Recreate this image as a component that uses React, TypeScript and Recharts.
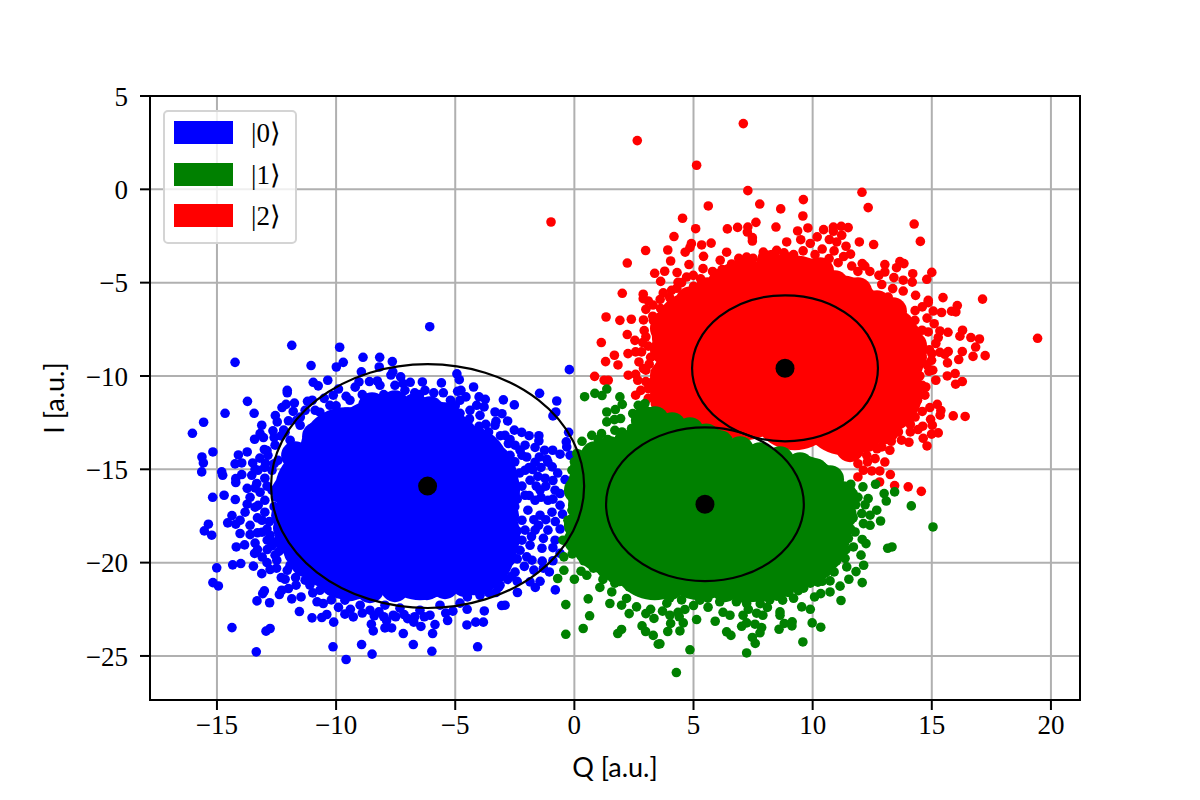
import React from "react";
import { ScatterChart, Scatter, XAxis, YAxis, CartesianGrid, Legend, ReferenceArea } from "recharts";

type P = [number, number];

const xTicks = [-15, -10, -5, 0, 5, 10, 15, 20];
const yTicks = [5, 0, -5, -10, -15, -20, -25];
const xDomain = [-17.81, 21.22];
const yDomain = [-27.36, 5];
const stateLabels = ["|0⟩", "|1⟩", "|2⟩"];
const stateColors = ["#0000ff", "#008000", "#ff0000"];

// Densest part of each cloud, where single shots merge into a solid area.
const blueDenseWide: P[] = [[-8.37,-13.71],[-6.06,-13.71],[-9.63,-14.09],[-10.68,-16.12],[-8.37,-16.12],[-6.06,-16.12],[-4.17,-16.12],[-10.47,-18.53],[-8.37,-18.53],[-6.06,-18.53],[-4.17,-18.53],[-9.42,-19.6],[-6.48,-19.6],[-4.38,-19.34],[-4.59,-15.05]];
const blueDenseEdge: P[] = [[-12.1,-16.12],[-11.72,-14.25],[-10.84,-13.23],[-9.5,-12.43],[-8.49,-11.62],[-7.53,-11.52],[-6.69,-11.68],[-5.43,-12.16],[-4.72,-13.02],[-3.63,-13.98],[-3.0,-15.21],[-2.87,-16.5],[-2.87,-18.43],[-3.0,-19.6],[-3.54,-20.3],[-4.59,-21.1],[-6.19,-21.26],[-7.53,-21.37],[-8.58,-21.42],[-10.05,-21.1],[-11.3,-20.03],[-12.0,-18.8],[-12.14,-17.46],[-11.51,-15.32],[-10.26,-12.8],[-6.06,-11.84],[-4.17,-13.44],[-3.25,-14.52],[-2.91,-17.46],[-3.96,-20.68],[-5.43,-21.21],[-9.42,-21.32],[-10.68,-20.51],[-11.6,-19.44],[-12.06,-18.16]];
const blueShots: P[] = [[-11.86,-8.36],[-14.24,-9.27],[-9.85,-8.46],[-11.05,-9.44],[-9.99,-9.52],[-9.7,-9.27],[-8.87,-9.0],[-8.17,-9.0],[-13.72,-11.36],[-14.66,-12.0],[-13.44,-12.0],[-15.56,-12.48],[-16.03,-13.07],[-15.17,-14.07],[-15.63,-14.34],[-15.57,-14.66],[-15.64,-15.14],[-14.8,-15.14],[-14.76,-15.32],[-15.18,-16.5],[-14.7,-16.39],[-12.05,-10.77],[-12.05,-10.9],[-11.75,-11.45],[-12.1,-11.52],[-12.27,-11.69],[-12.55,-12.12],[-12.47,-12.46],[-13.12,-12.64],[-12.65,-12.94],[-13.19,-13.09],[-13.42,-13.39],[-13.05,-13.3],[-12.31,-13.21],[-13.01,-13.94],[-13.73,-14.07],[-14.1,-14.23],[-14.24,-14.71],[-13.96,-14.66],[-13.5,-14.66],[-12.96,-14.69],[-13.96,-15.28],[-13.54,-15.32],[-14.21,-15.5],[-14.21,-15.71],[-13.73,-16.02],[-13.33,-15.76],[-14.23,-16.62],[-13.73,-16.87],[-13.27,-16.93],[-14.37,-17.48],[-10.96,-10.34],[-10.35,-10.23],[-10.75,-10.53],[-11.2,-11.36],[-11.65,-12.37],[-11.3,-11.84],[-10.88,-11.84],[-8.94,-9.78],[-9.04,-10.32],[-8.19,-9.52],[-8.27,-10.27],[-9.58,-11.09],[-10.12,-11.03],
[-15.36,-17.94],[-15.53,-18.3],[-15.22,-18.53],[-14.55,-17.87],[-14.21,-17.94],[-14.03,-18.44],[-13.61,-18.5],[-14.19,-19.16],[-13.84,-19.05],[-13.4,-18.95],[-13.42,-19.51],[-12.89,-19.3],[-12.89,-18.8],[-15.01,-20.28],[-14.34,-20.12],[-14.0,-20.05],[-13.47,-20.19],[-13.12,-20.59],[-12.77,-20.37],[-12.49,-19.87],[-15.17,-21.07],[-14.94,-21.25],[-13.01,-21.51],[-13.08,-21.66],[-13.32,-22.05],[-12.79,-22.15],[-12.38,-21.71],[-12.28,-21.48],[-12.0,-21.39],[-12.14,-20.89],[-12.05,-20.41],[-11.68,-21.21],[-11.47,-21.84],[-11.86,-21.94],[-10.98,-21.62],[-11.54,-22.62],[-11.01,-22.96],[-10.6,-22.94],[-10.39,-22.78],[-10.1,-23.19],[-14.37,-23.48],[-12.94,-23.67],[-12.77,-23.53],[-13.35,-24.78],[-10.13,-24.51],[-9.58,-25.19],[-8.93,-24.39],[-8.49,-24.9],[-6.76,-24.39],[-7.18,-23.8],[-8.44,-23.66],[-8.52,-23.3],[-7.95,-23.5],[-7.67,-23.5],[-7.88,-23.12],[-7.15,-22.78],[-6.74,-23.19],[-6.44,-23.42],[-9.28,-22.91],[-9.63,-22.76],[-10.54,-22.19],[-8.2,-22.64],[-8.58,-22.55],[-7.6,-22.82],
[-6.06,-22.82],[-5.85,-23.32],[-5.95,-23.8],[-5.98,-24.75],[-5.32,-23.1],[-4.51,-23.34],[-4.14,-23.19],[-3.82,-23.19],[-4.06,-24.51],[-3.78,-22.59],[-3.05,-22.3],[-2.91,-22.28],[-2.39,-21.6],[-3.18,-21.33],[-1.86,-21.03],[-1.64,-21.33],[-1.44,-21.0],[-0.8,-21.46],[-1.05,-20.5],[-4.49,-21.84],[-2.0,-19.69],[-1.35,-19.92],[-3.61,-21.03],[-2.63,-20.73],[-4.1,-21.12],
[-6.07,-7.36],[-0.21,-9.66],[-7.64,-9.23],[-7.29,-10.05],[-7.62,-9.78],[-6.89,-10.34],[-6.38,-10.32],[-5.58,-10.37],[-4.93,-9.89],[-4.83,-10.2],[-4.76,-10.77],[-4.9,-10.82],[-4.23,-10.59],[-4.55,-11.12],[-4.0,-11.12],[-3.74,-11.25],[-2.98,-11.28],[-2.52,-11.55],[-1.46,-10.93],[-0.74,-11.34],[-0.78,-11.93],[-0.9,-12.14],[-3.33,-11.93],[-3.04,-12.02],[-3.29,-12.43],[-4.1,-11.57],[-3.79,-11.66],[-3.72,-12.59],[-2.8,-12.41],[-2.52,-12.9],[-2.21,-13.02],[-1.9,-13.2],[-1.49,-13.2],[-1.49,-13.48],[-0.24,-13.02],[-0.34,-13.53],[-0.32,-13.8],[-1.25,-13.98],[-0.91,-13.98],[-0.6,-14.19],[-0.18,-14.25],[-1.47,-14.34],[-1.16,-14.46],[-0.93,-14.87],[-1.75,-15.01],[-0.39,-15.55],[-0.6,-16.3],[-2.0,-14.34],[-2.28,-13.98],[-2.77,-13.62],[-1.65,-13.83],
[-2.07,-15.05],[-1.86,-15.59],[-1.44,-16.12],[-1.11,-16.66],[-1.65,-16.66],[-0.81,-16.12],[-1.23,-15.48],[-1.95,-17.19],[-1.44,-17.46],[-0.94,-17.3],[-0.6,-16.93],[-2.07,-18.26],[-1.65,-18.26],[-1.11,-18.26],[-1.86,-19.07],[-1.36,-19.23],[-0.81,-18.8],[-2.28,-19.34],[-1.78,-19.87],[-1.11,-14.62],[-1.65,-14.62],[-2.2,-14.25],[-2.49,-13.71],[-2.07,-13.71],[-2.91,-13.18],[-3.33,-12.64],[-3.96,-12.11],[-4.38,-11.84],[-4.8,-11.3],[-2.7,-14.25],[-2.07,-16.39],[-1.53,-15.38],[-2.2,-17.73],
[-8.16,-10.5],[-7.53,-10.5],[-7.11,-10.77],[-6.27,-10.77],[-9.42,-11.3],[-10.26,-11.57],[-10.68,-11.94],[-11.51,-12.64],[-11.93,-13.44],[-12.44,-14.52],[-12.69,-15.05],[-12.99,-16.66],[-13.11,-17.73],[-12.77,-18.53],[-12.56,-19.6],[-11.93,-20.14],[-11.3,-20.94],[-10.68,-21.48],[-9.63,-22.01],[-8.99,-22.28],[-7.95,-22.28],[-7.32,-22.44],[-6.48,-22.55],[-5.64,-22.28],[-4.8,-22.17],[-3.96,-21.75],[-3.12,-21.21],[-2.49,-20.51],
[-13.28,-15.05],[-12.99,-15.48],[-13.19,-16.23],[-13.61,-16.5],[-13.4,-17.03],[-12.99,-17.3],[-13.82,-17.3],[-12.69,-16.12],[-14.03,-17.73],[-13.61,-18.0],[-13.11,-18.37],[-12.86,-14.25],[-12.56,-13.71],[-12.14,-13.02],
[-10.5,-11.2],[-10.0,-11.6],[-9.9,-10.7],[-9.2,-10.6],[-8.9,-11.0],[-8.6,-10.3],[-8.0,-11.0],[-7.7,-9.95],[-7.2,-10.4],[-6.7,-10.9],[-6.5,-11.0],[-5.9,-10.9],[-5.5,-10.9],[-5.2,-11.3],[-5.0,-11.6],[-4.8,-12.0],[-4.4,-12.3],[-4.0,-12.7],[-3.6,-13.0],[-3.1,-13.2],[-2.7,-13.4],
[-2.5,-14.6],[-2.3,-15.2],[-2.6,-15.6],[-2.2,-15.9],[-1.9,-14.9],[-1.6,-15.9],[-1.2,-15.9],[-0.9,-15.6],[-0.7,-15.2],[-1.4,-14.9],[-1.9,-16.4],[-1.4,-16.5],[-0.9,-16.6],[-0.5,-17.4],[-2.5,-17.0],[-2.4,-16.6],[-1.7,-17.7],[-1.2,-17.7],[-0.8,-17.8],[-1.5,-18.0],[-2.4,-18.3],[-2.2,-18.8],[-1.8,-18.6],[-1.3,-18.7],[-0.9,-19.2],[-0.6,-18.2],[-2.4,-19.8],[-2.1,-20.2],[-1.7,-20.4],[-1.3,-20.3],[-0.9,-19.9],[-0.6,-19.5],[-2.8,-20.9],[-2.4,-21.0],[-3.3,-21.6],[-3.6,-21.6],
[-4.5,-22.5],[-5.1,-22.6],[-5.4,-22.7],[-6.3,-22.9],[-6.7,-22.9],[-7.0,-23.0],[-7.5,-22.9],[-8.0,-22.9],[-8.4,-22.85],[-8.9,-22.7],[-9.4,-22.5],[-9.9,-22.4],[-10.2,-22.0],[-10.8,-22.1],[-11.1,-21.2],[-11.7,-20.8],[-12.3,-20.8],[-12.5,-20.3],[-12.9,-20.0],[-13.1,-19.7],[-13.3,-19.3],
[-13.4,-16.0],[-13.0,-14.9],[-13.4,-15.0],[-13.2,-14.4],[-12.9,-14.0],[-12.6,-14.7],[-12.6,-13.3],[-12.2,-12.9],[-12.0,-12.4],[-11.8,-11.9],[-11.5,-12.2],[-11.0,-11.3],[-12.9,-15.9],[-12.8,-17.8],[-12.9,-18.2],[-13.3,-18.4],[-13.3,-17.6],[-12.6,-17.0],[-12.5,-16.5],[-12.6,-18.9],[-12.4,-19.4],[-12.7,-19.1]];

const redDenseWide: P[] = [[5.14,-7.82],[5.05,-10.5],[7.15,-6.21],[7.15,-8.62],[7.15,-11.03],[9.25,-5.95],[9.25,-8.36],[9.25,-11.57],[11.14,-7.02],[11.36,-9.43],[11.36,-11.84],[12.82,-8.89],[12.74,-10.77]];
const redDenseEdge: P[] = [[3.76,-7.45],[3.76,-8.62],[3.76,-9.96],[3.76,-11.03],[4.43,-6.48],[5.6,-5.46],[6.2,-4.98],[7.15,-4.39],[8.21,-4.02],[9.59,-4.45],[10.31,-4.39],[10.93,-5.09],[11.9,-5.46],[12.7,-6.16],[13.37,-6.53],[13.66,-7.28],[14.21,-8.36],[14.21,-9.0],[13.92,-10.23],[13.92,-11.41],[13.54,-12.11],[13.04,-12.91],[12.24,-13.34],[11.57,-13.87],[4.85,-5.95],[9.0,-4.12],[13.96,-7.82]];
const redShots: P[] = [[7.09,3.52],[2.64,2.61],[5.13,1.29],[-0.98,-1.75],[7.28,-0.07],[7.78,-0.79],[8.66,-1.05],[5.62,-0.89],[4.54,-1.55],[5.09,-2.11],[6.42,-2.12],[6.85,-2.04],[7.28,-2.02],[7.26,-2.29],[7.47,-2.59],[7.47,-2.77],[7.62,-1.77],[8.46,-2.02],[4.18,-2.53],[2.99,-3.28],[3.92,-3.25],[4.91,-2.91],[4.85,-3.12],[4.65,-3.37],[5.34,-2.98],[5.74,-2.88],[5.42,-3.59],[4.04,-3.84],[2.22,-3.95],[4.81,-4.03],[3.37,-4.5],[3.79,-4.39],[4.31,-4.46],[3.62,-4.93],[4.35,-4.98],[4.99,-4.61],[5.4,-4.25],[6.12,-3.8],[6.39,-3.37],[2.01,-5.57],[2.89,-5.62],[2.89,-5.86],[3.1,-5.98],[3.73,-5.55],[4.08,-5.41],[4.53,-5.89],[4.08,-6.03],[3.0,-6.43],[3.62,-6.39],[1.33,-6.84],[1.91,-7.02],[2.39,-6.96],[3.29,-6.8],[4.85,-5.59],[4.71,-4.7],[7.23,-3.63],[7.93,-3.36],[8.49,-3.27],[8.91,-2.82],
[12.07,-0.16],[12.33,-0.98],[9.61,-0.55],[9.59,-1.43],[9.37,-2.23],[9.8,-2.07],[10.46,-2.16],[10.87,-2.02],[10.87,-2.25],[11.2,-1.98],[11.49,-2.05],[11.22,-2.46],[10.7,-2.69],[11.01,-2.82],[10.19,-2.55],[11.4,-3.05],[11.96,-2.82],[12.56,-2.96],[11.59,-3.47],[14.26,-1.86],[14.52,-2.79],[11.07,-3.93],[10.69,-3.71],[11.64,-4.11],[12.08,-3.98],[12.19,-4.11],[13.03,-4.03],[13.66,-3.87],[13.83,-3.98],[13.52,-4.2],[13.03,-4.43],[12.78,-4.61],[13.41,-4.73],[14.2,-4.52],[15.0,-4.45],[14.79,-4.82],[14.18,-4.97],[13.8,-4.87],[13.36,-5.32],[13.8,-5.45],[14.32,-5.68],[15.47,-5.8],[17.13,-5.88],[13.17,-5.77],[14.85,-5.95],
[19.44,-7.98],[14.85,-6.07],[16.07,-6.23],[15.83,-6.53],[16.01,-6.57],[15.41,-6.6],[15.06,-6.52],[16.29,-7.55],[16.18,-7.87],[16.64,-7.94],[17.0,-8.02],[16.84,-8.45],[16.73,-8.95],[17.24,-8.91],[16.28,-8.69],[16.13,-9.12],[15.66,-9.3],[15.69,-8.69],[15.34,-8.73],[15.55,-8.84],[15.68,-7.66],[15.34,-7.59],[15.27,-7.94],[15.17,-8.26],[14.85,-7.64],[14.99,-9.16],[15.04,-9.69],[14.88,-9.75],[15.17,-10.23],[15.65,-10.0],[15.98,-9.87],[16.28,-10.3],[16.0,-10.44],[14.75,-10.59],[15.23,-11.52],[15.38,-11.85],[15.35,-12.1],[15.9,-12.14],[16.4,-12.17],[14.92,-11.69],[14.95,-12.32],[15.02,-12.64],[14.62,-12.69],[14.42,-12.87],[15.27,-13.05],[14.99,-13.12],[14.64,-13.34],[14.8,-13.75],[14.04,-13.55],[13.73,-13.44],[13.24,-13.98],[12.9,-13.8],[12.62,-14.43],[13.03,-14.61],[12.27,-14.25],[13.26,-15.28],[12.82,-15.09],[12.48,-15.09],[12.13,-15.05],[11.9,-15.41],[12.81,-15.68],[13.44,-15.87],[14.01,-15.94],[14.56,-16.18],[14.29,-7.02],[14.59,-7.55],[14.71,-11.03],
[2.93,-7.57],[2.22,-7.78],[1.13,-8.21],[2.54,-8.09],[2.87,-8.21],[1.68,-8.89],[1.31,-9.23],[1.83,-9.41],[2.25,-8.8],[2.57,-8.71],[2.82,-8.71],[2.71,-9.25],[3.14,-9.37],[3.0,-9.69],[2.26,-9.96],[2.57,-9.91],[2.66,-10.23],[0.85,-10.02],[1.25,-10.23],[1.42,-10.23],[2.57,-11.03],[2.79,-10.77],[3.1,-10.68],[3.31,-7.02],[3.59,-6.84],
[4.5,-5.0],[5.0,-5.2],[5.3,-4.8],[5.8,-4.4],[6.2,-4.3],[6.6,-4.0],[6.9,-3.7],[7.5,-3.7],[7.9,-3.6],[8.3,-3.5],[8.8,-3.4],[9.2,-3.5],[9.6,-3.3],[10.1,-3.5],[10.4,-3.2],[9.9,-2.9],[9.5,-2.7],[10.9,-3.3],[11.3,-3.6],[11.9,-4.4],[12.4,-4.4],[12.9,-5.1],[3.3,-6.2],[3.6,-5.9],[4.0,-5.8],[4.3,-5.3],[2.9,-7.0],[3.0,-7.9],[3.1,-8.4],[3.2,-9.0],[3.3,-10.3],[3.0,-10.3],[2.9,-9.6],[3.1,-11.2],[3.4,-11.5],
[14.3,-6.5],[14.6,-6.3],[14.8,-6.9],[14.9,-8.6],[15.1,-7.2],[15.0,-8.8],[14.8,-9.4],[14.5,-10.0],[14.6,-10.5],[14.4,-11.3],[14.6,-11.9],[14.3,-12.2],[14.1,-12.6],[14.1,-13.0],[13.6,-13.0],[13.3,-13.5],[12.7,-13.9],[12.3,-14.6],[11.9,-14.7]];

const greenDenseWide: P[] = [[1.58,-16.12],[1.58,-18.26],[3.37,-14.78],[3.58,-17.19],[3.37,-19.6],[5.27,-15.05],[5.48,-17.46],[5.27,-19.6],[7.36,-16.12],[7.36,-18.26],[7.36,-19.71],[9.47,-16.66],[9.68,-18.53],[9.05,-19.07]];
const greenDenseEdge: P[] = [[0.32,-16.93],[0.4,-14.95],[0.86,-14.25],[1.49,-13.98],[2.33,-13.82],[2.96,-12.37],[3.38,-12.37],[4.1,-12.69],[4.85,-12.96],[6.11,-13.66],[7.79,-14.3],[9.47,-14.84],[10.73,-15.53],[11.27,-16.39],[11.27,-17.46],[11.06,-18.26],[10.73,-19.34],[10.31,-20.14],[9.8,-20.57],[8.75,-21.1],[7.15,-21.42],[5.27,-21.26],[4.01,-21.26],[2.54,-20.73],[1.49,-20.19],[0.65,-19.44],[0.15,-18.8],[0.15,-18.0],[0.15,-16.12],[6.32,-21.37],[8.0,-21.32],[3.17,-21.1],[1.9,-20.51],[6.95,-13.98],[8.63,-14.52],[10.1,-15.16],[5.53,-13.3]];
const greenShots: P[] = [[0.43,-11.11],[0.86,-10.93],[1.16,-11.05],[1.36,-10.7],[1.91,-11.12],[2.01,-11.52],[1.36,-11.93],[1.72,-11.8],[1.36,-12.46],[1.68,-12.34],[1.94,-12.28],[1.7,-12.91],[2.45,-12.01],[2.96,-11.48],[2.68,-11.57],[0.73,-13.18],[1.14,-13.09],[0.32,-13.5],[2.4,-12.82],[2.68,-12.55],[0.1,-14.16],
[-0.09,-19.53],[-0.44,-19.69],[-0.44,-20.41],[-0.7,-20.85],[0.0,-20.89],[0.28,-20.46],[0.58,-21.94],[-0.36,-22.25],[0.64,-22.85],[0.37,-23.53],[-0.36,-23.84],[1.82,-23.8],[1.98,-23.58],[2.84,-23.39],[2.99,-23.69],[3.31,-23.9],[3.52,-24.37],[3.34,-22.99],[3.0,-22.73],[2.3,-22.73],[1.49,-22.19],[1.98,-22.28],[2.61,-22.37],[1.07,-21.33],[1.57,-21.57],[2.19,-21.92],[0.52,-20.68],
[4.28,-25.89],[7.23,-24.84],[9.59,-24.25],[4.85,-24.67],[3.59,-24.35],[3.92,-23.69],[4.43,-23.66],[4.04,-23.26],[4.57,-23.23],[4.01,-22.82],[4.64,-22.51],[5.13,-23.05],[5.91,-23.14],[6.39,-23.71],[6.57,-23.9],[7.02,-23.41],[7.23,-23.23],[7.58,-23.3],[7.86,-23.48],[7.79,-23.76],[7.47,-24.01],[7.59,-24.33],[8.59,-23.57],[8.81,-23.26],[9.14,-23.17],[9.13,-23.39],[9.98,-23.23],[10.34,-23.46],[8.63,-22.64],[8.63,-22.82],[9.54,-22.37],[10.08,-21.84],[10.34,-21.66],[11.19,-22.03],[10.73,-21.57],[10.73,-20.98],[11.15,-21.26],[11.52,-20.89],[12.08,-21.07],[11.82,-20.48],[12.14,-20.14],[12.03,-19.6],[12.24,-18.98],[12.08,-18.76],[11.78,-18.36],[11.71,-19.16],[11.43,-20.23],[11.36,-19.77],[13.15,-19.23],[13.33,-19.16],[12.85,-17.77],[12.41,-18.0],[12.13,-17.91],[12.06,-17.37],[12.69,-17.19],[12.41,-17.46],[13.09,-16.7],[13.0,-16.3],[13.44,-16.21],[14.14,-16.96],[15.05,-18.09],[12.64,-15.8],[12.33,-16.57],[12.11,-15.94],
[5.27,-22.01],[7.23,-22.19],[7.91,-22.82],[7.65,-22.71],[6.24,-22.66],[6.53,-22.82],[5.61,-22.39],[3.88,-22.17],[4.35,-22.66],[7.08,-22.82],[8.74,-22.01],[9.2,-21.91],[9.62,-21.37],[10.22,-21.05],[-0.48,-18.8],[-0.27,-17.73],[-0.18,-16.12],[-0.1,-15.05],
[3.0,-21.3],[3.5,-21.6],[4.0,-21.9],[4.5,-22.0],[5.0,-22.3],[5.6,-21.9],[6.1,-22.1],[6.8,-22.1],[7.3,-22.5],[7.8,-22.2],[8.2,-22.0],[8.5,-21.8],[9.0,-21.6],[9.4,-21.5],[9.9,-21.1],[10.4,-21.0],[0.4,-19.9],[0.8,-20.3],[1.2,-20.9],[1.7,-21.1],[2.3,-21.3],[2.6,-21.5],[3.2,-22.5],[3.7,-22.6],[4.4,-22.9],[8.1,-22.4],[9.9,-22.5],[10.9,-20.5],[11.0,-19.9],[11.4,-19.3],[11.5,-18.7],[11.6,-18.2],[11.7,-17.6],[11.8,-16.9],[11.7,-16.3],[11.6,-15.8],[11.9,-16.5],[12.2,-16.9],[-0.1,-17.2],[0.0,-14.6],[0.2,-14.2],[1.0,-13.4],[1.4,-13.4],[1.9,-13.3],[2.0,-13.0]];

// Fitted means and spread of each state.
const centers: P[] = [[-6.16,-15.9],[5.48,-16.87],[8.84,-9.59]];
const spreadQ = [6.57, 4.15, 3.9];
const spreadI = [6.53, 4.12, 3.91];

const W = 1200, H = 800;
const M = { top: 96, right: 120, bottom: 50, left: 100 };
const Y_W = 50, X_H = 50;
const pxQ = (W - M.left - M.right - Y_W) / (xDomain[1] - xDomain[0]);
const pxI = (H - M.top - M.bottom - X_H) / (yDomain[1] - yDomain[0]);

const toRows = (a: P[]) => a.map(([x, y]) => ({ x, y }));
const dot = (r: number, fill: string) => (p: any) => <circle cx={p.cx} cy={p.cy} r={r} fill={fill} />;
const ring = (p: any) => (
  <ellipse cx={p.cx} cy={p.cy} rx={p.payload.rq * pxQ} ry={p.payload.ri * pxI} fill="none" stroke="#000" strokeWidth={2.2} />
);
const ellipseRows = centers.map(([x, y], i) => ({ x, y, rq: spreadQ[i], ri: spreadI[i] }));

const SERIF = '"Liberation Serif", serif';
const SANS = 'Lato, "Open Sans", sans-serif';
const fmt = (v: number) => String(v).replace("-", "\u2212");

const LegendBox = () => (
  <div style={{ width: 134, height: 134, boxSizing: "border-box", border: "2px solid #d4d4d4", borderRadius: 5, background: "rgba(255,255,255,0.8)", position: "relative" }}>
    {stateLabels.map((s, i) => (
      <div key={s} style={{ position: "absolute", left: 0, top: [9, 51, 92][i], height: 23, width: 130 }}>
        <div style={{ position: "absolute", left: 8.5, top: 0, width: 59, height: 22.5, background: stateColors[i] }} />
        <div style={{ position: "absolute", left: 86, top: -3, fontFamily: SERIF, fontSize: 27, lineHeight: "30px", color: "#000", whiteSpace: "nowrap" }}>{s}</div>
      </div>
    ))}
  </div>
);

export default function App() {
  return (
    <div style={{ position: "absolute", left: 0, top: 0, width: W, height: H, background: "#fff" }}>
      <ScatterChart width={W} height={H} margin={M}>
        <CartesianGrid stroke="#b0b0b0" strokeWidth={2} />
        <XAxis type="number" dataKey="x" domain={xDomain} ticks={xTicks} allowDataOverflow interval={0} tickFormatter={fmt}
          height={X_H} tickSize={10} tickMargin={5} axisLine={{ stroke: "#000", strokeWidth: 2 }} tickLine={{ stroke: "#000", strokeWidth: 2 }}
          tick={{ fill: "#000", fontFamily: SERIF, fontSize: 27 }}
          label={{ value: "Q [a.u.]", position: "bottom", offset: 8, fill: "#000", fontFamily: SANS, fontSize: 27 }} />
        <YAxis type="number" dataKey="y" domain={yDomain} ticks={yTicks} allowDataOverflow interval={0} tickFormatter={fmt}
          width={Y_W} tickSize={10} tickMargin={12} axisLine={{ stroke: "#000", strokeWidth: 2 }} tickLine={{ stroke: "#000", strokeWidth: 2 }}
          tick={{ fill: "#000", fontFamily: SERIF, fontSize: 27 }}
          label={{ value: "I [a.u.]", angle: -90, position: "left", offset: 46, textAnchor: "middle", fill: "#000", fontFamily: SANS, fontSize: 27 }} />
        <Scatter data={toRows(blueDenseWide)} shape={dot(45, stateColors[0])} isAnimationActive={false} />
        <Scatter data={toRows(blueDenseEdge)} shape={dot(14, stateColors[0])} isAnimationActive={false} />
        <Scatter data={toRows(blueShots)} shape={dot(4.8, stateColors[0])} isAnimationActive={false} />
        <Scatter data={toRows(redDenseWide)} shape={dot(45, stateColors[2])} isAnimationActive={false} />
        <Scatter data={toRows(redDenseEdge)} shape={dot(14, stateColors[2])} isAnimationActive={false} />
        <Scatter data={toRows(redShots)} shape={dot(4.8, stateColors[2])} isAnimationActive={false} />
        <Scatter data={toRows(greenDenseWide)} shape={dot(45, stateColors[1])} isAnimationActive={false} />
        <Scatter data={toRows(greenDenseEdge)} shape={dot(14, stateColors[1])} isAnimationActive={false} />
        <Scatter data={toRows(greenShots)} shape={dot(4.8, stateColors[1])} isAnimationActive={false} />
        <Scatter data={ellipseRows} shape={ring} isAnimationActive={false} />
        <Scatter data={toRows(centers)} shape={dot(9.5, "#000")} isAnimationActive={false} />
        <ReferenceArea x1={xDomain[0]} x2={xDomain[1]} y1={yDomain[0]} y2={yDomain[1]} fill="none" stroke="#000" strokeWidth={2} ifOverflow="visible" />
        <Legend layout="vertical" align="center" verticalAlign="middle" content={<LegendBox />}
          wrapperStyle={{ position: "absolute", left: 163, top: 110, width: 134, height: 134 }} />
      </ScatterChart>
    </div>
  );
}
